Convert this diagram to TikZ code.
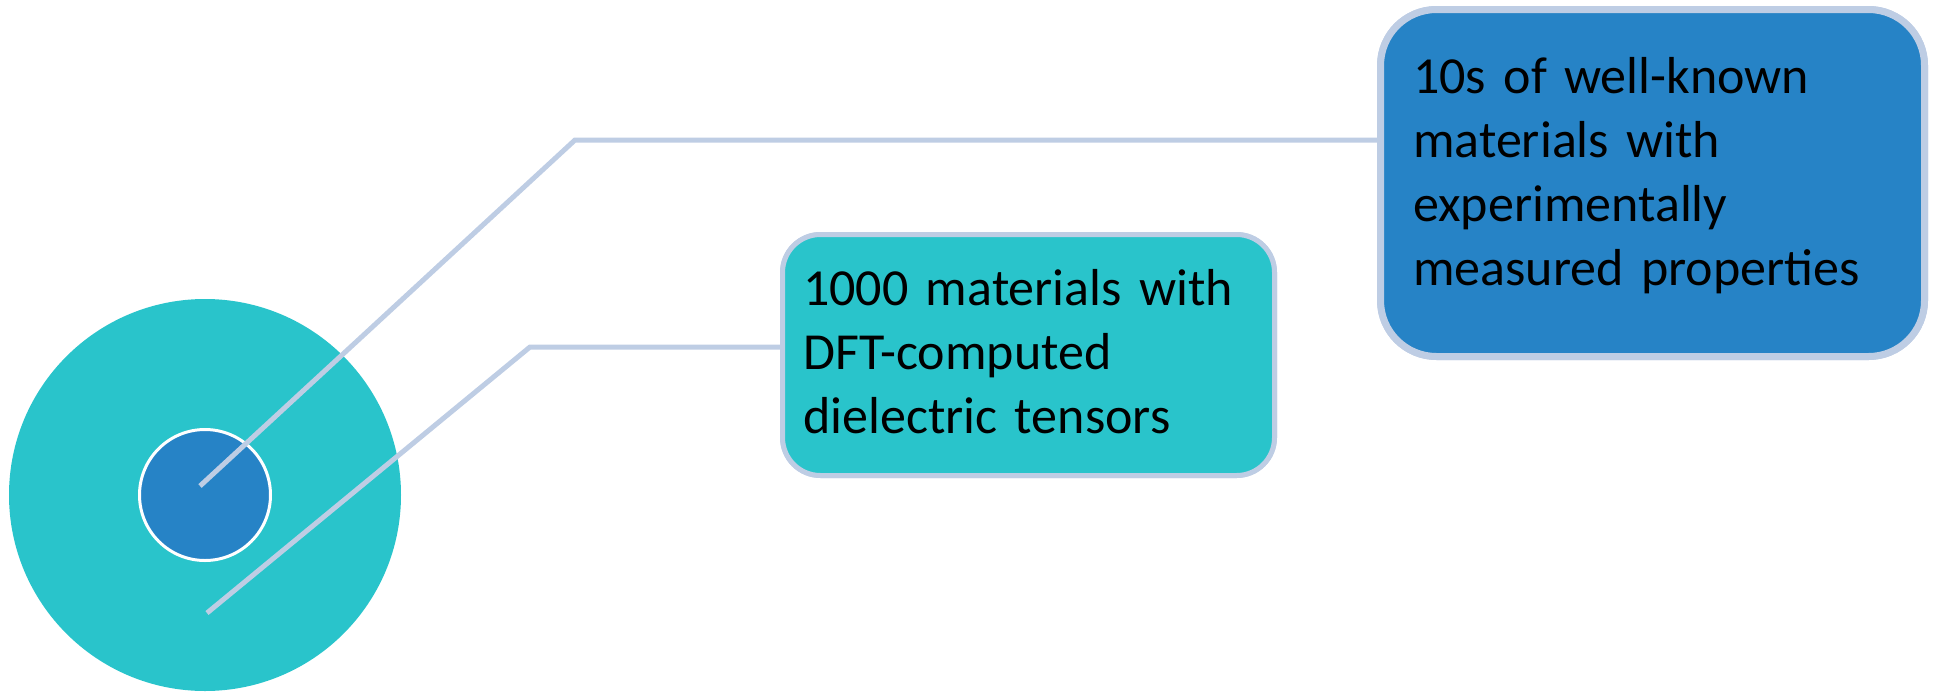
\documentclass[tikz,border=0pt]{standalone}
\usepackage{fontspec}
\setmainfont{Carlito}
\begin{document}
\begin{tikzpicture}[x=1pt,y=-1pt,
  ringfill/.style={circle,fill=tealc,inner sep=0pt,minimum size=392pt},
  corefill/.style={circle,fill=bluec,draw=white,line width=3pt,inner sep=0pt,minimum size=131pt},
  leader/.style={draw=edgec,line width=5pt},
  callout/.style={draw=edgec,rounded corners=#1,inner sep=0pt},
  caption/.style={anchor=base west,inner sep=0pt,text width=520pt,align=left,
    font=\fontsize{52pt}{64pt}\selectfont,text=black}]
\definecolor{tealc}{RGB}{41,196,203}
\definecolor{bluec}{RGB}{38,131,198}
\definecolor{edgec}{RGB}{190,205,228}
\useasboundingbox (0,0) rectangle (1934,691);

% concentric discs
\node[ringfill] (ring) at (205,495) {};
\node[corefill] (core) at (205,495) {};

% call-out boxes
\node[callout=38pt,fill=tealc,line width=5pt,minimum width=492pt,minimum height=241pt]
  (dftbox) at (1028.5,355) {};
\node[callout=56pt,fill=bluec,line width=7pt,minimum width=544pt,minimum height=347pt]
  (expbox) at (1652.5,183) {};

% leader lines from the discs to the boxes
\coordinate (s1) at (200,486);
\coordinate (k1) at (575,140);
\coordinate (s2) at (207,613);
\coordinate (k2) at (530,347);
\draw[leader] (s1) -- (k1) -- (k1 -| expbox.west);
\draw[leader] (s2) -- (k2) -- (k2 -| dftbox.west);

% redraw box outlines over the line ends
\node[callout=38pt,fill=tealc,line width=5pt,minimum width=492pt,minimum height=241pt]
  at (dftbox) {};
\node[callout=56pt,fill=bluec,line width=7pt,minimum width=544pt,minimum height=347pt]
  at (expbox) {};

% texts
\node[caption] (exptext) at (1413,93)
  {10s of well-known\\materials with\\experimentally\\measured properties};
\node[caption] (dfttext) at (803,305)
  {1000 materials with\\DFT-computed\\dielectric tensors};
\end{tikzpicture}
\end{document}
